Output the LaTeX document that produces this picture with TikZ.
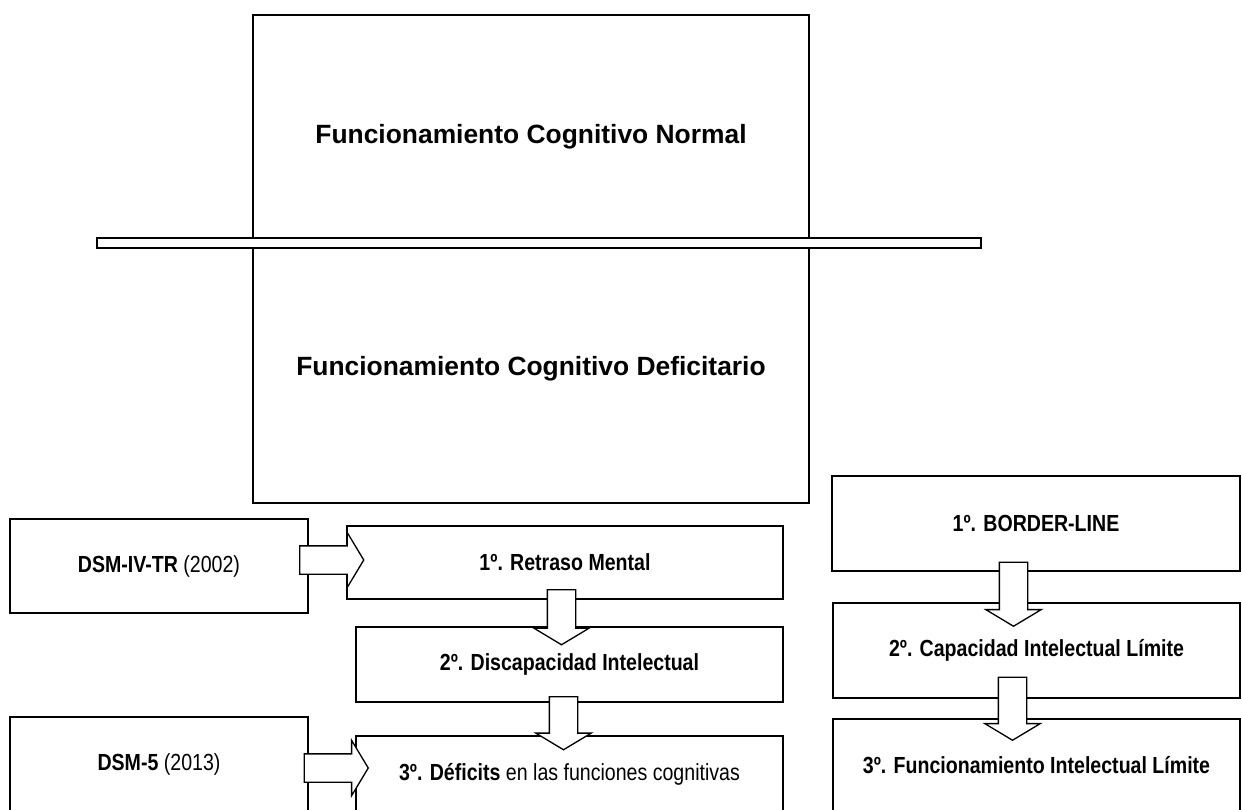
\documentclass[tikz,border=0pt]{standalone}
\usepackage{fontspec}
\setmainfont{Liberation Sans}
\newfontfamily\estrecha[FakeStretch=0.84]{Liberation Sans}
\usetikzlibrary{shapes.arrows}

\begin{document}
\begin{tikzpicture}[x=1pt,y=-1pt,line width=1.3pt,
    caja/.style={draw,fill=white,inner sep=0pt,font=\estrecha\fontsize{23.3}{27}\selectfont},
    flecha/.style={single arrow,draw,fill=white,inner xsep=0pt,inner ysep=13.5pt,
      single arrow head extend=13.5pt,single arrow tip angle=118,minimum height=#1}]
    \useasboundingbox (0,0) rectangle (1242,810);
    \clip (0,0) rectangle (1242,810);
    % niveles de funcionamiento
    \node[draw,minimum width=556pt,minimum height=223pt] (normal) at (531,126.5) {};
    \node[draw,minimum width=556pt,minimum height=255pt] (deficit) at (531,375.5) {};
    \node[font=\fontsize{26.4}{30}\selectfont\bfseries] (tnormal) at (531,137) {Funcionamiento Cognitivo Normal};
    \node[font=\fontsize{26.4}{30}\selectfont\bfseries] (tdeficit) at (531,369) {Funcionamiento Cognitivo Deficitario};
    \node[draw,fill=white,minimum width=884pt,minimum height=10pt] (linea) at (539,243) {};
    % DSM
    \node[caja,minimum width=298pt,minimum height=94pt] (dsm4) at (159,566) {\textbf{DSM-IV-TR} (2002)};
    \node[caja,minimum width=298pt,minimum height=95pt] (dsm5) at (159,764.5) {\textbf{DSM-5} (2013)};
    \node[caja,minimum width=436pt,minimum height=73pt] (retraso) at (565,562.5) {\textbf{1º. Retraso Mental}};
    \node[caja,minimum width=427pt,minimum height=75pt] (discap) at (569.5,664.5) {\textbf{2º. Discapacidad Intelectual}};
    \node[caja,minimum width=427pt,minimum height=76pt] (deficits) at (569.5,774) {\textbf{3º. Déficits} en las funciones cognitivas};
    % limite
    \node[caja,minimum width=408pt,minimum height=95pt] (border) at (1036,523.5) {\textbf{1º. BORDER-LINE}};
    \node[caja,minimum width=407pt,minimum height=95pt] (capac) at (1036.5,650.5) {\textbf{2º. Capacidad Intelectual Límite}};
    \node[caja,minimum width=407pt,minimum height=93pt] (funcint) at (1036.5,765.5) {\textbf{3º. Funcionamiento Intelectual Límite}};
    % flechas
    \path ([yshift=6pt]dsm4.east) -- ([yshift=2.5pt]retraso.west) node[midway,flecha=64pt] (f1) {};
    \path ([yshift=-3.5pt]dsm5.east) -- ([yshift=6pt]deficits.west) node[midway,flecha=64pt] (f2) {};
    \path ([xshift=-3.5pt]retraso.south) -- ([xshift=-8pt]discap.north) node[midway,rotate=-90,flecha=55pt] (f3) {};
    \path ([xshift=-6pt]discap.south) -- ([xshift=-6pt]deficits.north) node[midway,rotate=-90,flecha=53pt] (f4) {};
    \path ([xshift=-22.5pt,yshift=-3pt]border.south) -- ([xshift=-23pt,yshift=-3pt]capac.north) node[midway,rotate=-90,flecha=64pt] (f5) {};
    \path ([xshift=-24pt,yshift=4pt]capac.south) -- ([xshift=-24pt,yshift=4pt]funcint.north) node[midway,rotate=-90,flecha=63pt] (f6) {};
\end{tikzpicture}
\end{document}
